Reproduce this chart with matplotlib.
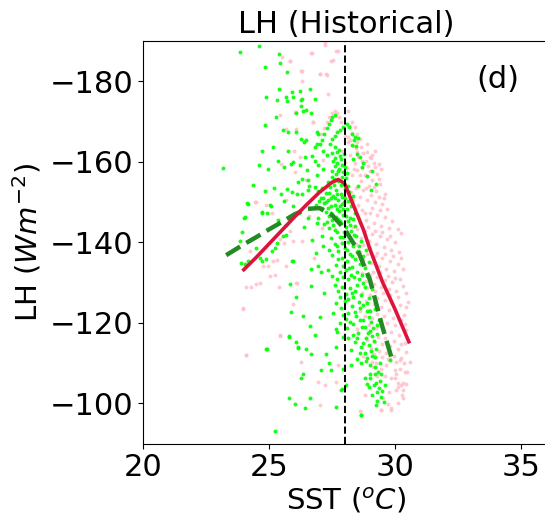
import matplotlib
matplotlib.use("Agg")
import matplotlib.pyplot as plt

# binned-mean curves
red_sst = [24.0, 24.5, 25.0, 25.5, 26.0, 26.5, 27.0, 27.5, 27.75, 28.0, 28.5, 28.75, 29.0, 29.5, 30.0, 30.55]
red_lh = [-133.2, -136.3, -139.6, -142.9, -146.2, -149.4, -152.4, -154.9, -155.6, -154.6, -146.9, -143.1, -138.4, -130.2, -123.4, -115.3]

green_line_sst = [23.3, 24.0, 24.5, 25.0, 25.5, 26.0, 26.5, 27.0, 27.5, 28.0, 28.5, 29.0, 29.5, 29.9]
green_line_lh = [-136.8, -139.5, -141.3, -143.2, -145.0, -146.9, -148.3, -148.5, -146.8, -143.3, -138.3, -130.8, -119.0, -110.5]

# scattered points (SST, LH)
green_sparse = [
    (23.85, -187.2), (24.6, -188.7), (25.4, -186.8), (25.43, -184.6), (24.83, -183.6), (25.73, -182.4),
    (25.38, -178.2), (24.9, -176.2), (25.3, -175.4), (25.67, -176.1), (25.7, -175.0), (25.92, -177.4),
    (25.96, -176.1), (26.23, -177.6), (26.26, -175.3), (26.62, -178.0), (24.83, -169.2), (25.26, -171.0),
    (25.55, -167.9), (25.77, -167.3), (26.08, -172.0), (26.35, -172.5), (26.47, -172.9), (26.66, -172.2),
    (24.74, -162.6), (25.15, -163.7), (26.26, -165.6), (26.37, -165.0), (25.75, -162.8), (23.19, -158.5),
    (24.6, -159.1), (24.95, -158.3), (25.36, -160.3), (25.6, -158.6), (25.89, -159.4), (24.37, -154.3),
    (25.19, -153.4), (24.83, -152.8), (25.47, -152.0), (25.7, -153.2), (25.93, -152.6), (26.1, -152.1),
    (26.31, -151.9), (24.15, -149.6), (24.71, -147.5), (25.03, -149.3), (24.01, -146.0), (23.91, -142.6),
    (25.6, -150.3), (25.95, -149.1), (26.28, -173.9), (26.81, -175.5), (26.48, -165.3), (26.95, -166.9),
    (27.01, -164.5), (27.14, -162.8), (24.04, -146.4), (26.15, -155.0), (26.55, -155.4), (26.81, -153.8),
    (26.55, -153.0), (26.29, -175.6), (26.07, -167.4), (26.89, -167.4), (26.82, -163.7), (26.91, -164.5),
    (26.43, -161.2), (26.69, -161.4), (26.23, -159.1), (26.95, -159.1),
    (24.13, -149.7), (23.86, -140.3), (23.9, -134.9), (24.04, -134.5), (24.17, -135.3), (24.5, -138.6),
    (24.63, -136.2), (24.74, -135.3), (24.87, -135.9), (25.1, -137.8), (25.23, -138.6), (25.32, -139.8),
    (25.56, -141.5), (25.69, -141.9), (24.94, -147.2), (24.74, -147.4), (25.06, -149.1), (25.36, -145.6),
    (25.69, -144.4), (25.9, -135.3), (26.09, -126.3), (25.89, -122.6), (25.81, -116.7), (26.09, -115.2),
    (24.92, -113.5), (26.17, -113.7), (24.9, -113.6), (25.8, -116.4), (26.15, -114.0), (26.35, -121.8),
    (26.61, -119.3), (26.68, -112.3), (26.46, -113.6), (26.28, -106.2), (26.35, -107.2), (25.8, -101.4),
    (26.02, -99.9), (26.42, -98.8), (26.64, -101.3), (25.23, -93.2), (27.01, -121.4), (26.81, -116.9),
    (27.28, -112.3), (27.37, -109.9), (27.47, -108.3), (27.67, -99.2), (27.08, -108.3), (27.65, -114.0),
    (27.65, -118.5), (27.87, -103.3), (28.66, -97.2), (25.82, -129.6), (25.95, -135.3), (26.68, -133.3),
    (26.95, -134.1), (27.08, -132.5), (26.68, -129.2), (26.88, -137.4), (26.4, -143.8), (26.7, -140.6),
    (26.2, -147.2), (26.55, -146.0), (26.9, -144.9), (27.15, -139.2), (27.2, -127.5),
]

green_core = [
    (27.1, -165.5), (27.2, -167.0), (27.3, -168.3), (27.38, -169.5), (27.45, -170.3), (27.52, -171.0), (27.6, -171.5),
    (27.42, -164.5), (27.5, -165.6), (27.6, -166.5), (27.7, -167.3), (27.82, -167.8), (27.95, -168.6),
    (28.08, -169.5), (28.18, -168.6), (28.28, -167.0), (28.36, -165.5), (28.45, -164.0), (28.41, -166.1),
    (28.54, -166.0), (28.28, -164.1), (28.48, -162.0), (28.74, -159.6), (28.61, -161.2),
    (27.55, -160.2), (27.62, -158.9), (27.7, -159.8), (27.78, -158.1), (27.85, -160.6), (27.92, -157.4),
    (27.66, -156.9), (27.58, -155.6), (27.74, -155.2), (27.88, -156.2), (28.02, -158.8), (28.06, -155.9),
    (27.96, -154.6), (27.5, -157.8), (27.81, -161.5), (27.69, -162.4), (27.6, -163.6),
    (25.95, -160.0), (26.5, -157.9), (26.82, -160.3), (27.15, -158.3), (26.3, -155.6), (27.35, -154.9),
    (28.7, -158.6), (28.9, -156.5), (29.1, -157.6), (29.25, -154.5), (29.05, -153.1), (28.55, -154.0),
    (28.35, -160.8), (26.9, -156.6), (27.3, -161.8), (26.6, -154.1),
    (26.95, -152.8), (27.05, -151.1), (27.12, -153.4), (27.2, -149.8), (27.28, -152.2), (27.35, -150.6),
    (27.42, -153.7), (27.48, -148.9), (27.55, -151.6), (27.6, -149.3), (27.66, -153.0), (27.72, -150.4),
    (27.78, -147.8), (27.84, -152.1), (27.9, -149.6), (27.95, -146.9), (28.02, -151.0), (28.08, -148.3),
    (28.14, -150.2), (28.2, -146.1), (28.27, -148.9), (28.33, -151.5), (27.38, -146.6), (27.25, -147.5),
    (27.1, -148.5), (27.0, -150.3), (26.85, -149.2), (27.5, -145.6), (27.65, -146.3), (27.82, -145.4),
    (28.0, -153.3), (28.12, -153.9), (27.58, -154.3), (27.45, -150.9), (27.7, -152.0), (27.88, -151.2),
    (27.35, -148.4), (27.92, -148.2), (28.25, -150.7), (28.4, -147.2),
    (27.55, -144.2), (27.7, -142.6), (27.85, -144.8), (27.95, -141.3), (28.05, -143.7), (28.15, -140.1),
    (28.25, -142.9), (28.35, -139.0), (28.45, -141.6), (28.55, -137.8), (28.65, -140.4), (28.75, -136.6),
    (27.6, -139.5), (27.75, -137.9), (27.9, -136.2), (28.0, -138.7), (28.1, -135.4), (28.2, -137.1),
    (28.3, -133.9), (28.4, -135.8), (28.5, -132.6), (28.6, -134.7), (28.7, -131.8), (28.8, -133.5),
    (27.65, -134.4), (27.8, -132.7), (27.95, -131.5), (28.05, -133.0), (28.15, -130.9), (28.25, -132.0),
    (27.5, -136.9), (27.45, -141.0), (27.35, -133.0), (27.4, -143.5), (28.85, -138.2), (28.95, -135.0),
    (28.9, -131.6), (27.72, -145.7), (28.12, -145.3), (28.42, -144.1),
    (27.6, -129.5), (27.75, -127.8), (27.9, -129.0), (28.05, -127.2), (28.2, -128.6), (28.35, -126.5),
    (28.5, -129.3), (28.65, -127.0), (28.8, -128.8), (28.95, -126.1), (29.1, -128.3), (27.65, -124.9),
    (27.85, -123.6), (28.0, -125.3), (28.15, -122.4), (28.3, -124.1), (28.45, -121.6), (28.6, -123.7),
    (28.75, -120.8), (28.9, -122.9), (29.05, -120.2), (29.2, -123.4), (27.8, -120.0), (28.1, -118.6),
    (28.35, -119.7), (28.55, -117.4), (28.7, -118.9), (28.85, -116.3), (29.0, -118.0), (29.15, -115.5),
    (29.3, -117.2), (28.4, -115.3), (28.65, -113.9), (28.8, -112.5), (28.95, -114.6), (29.1, -111.8),
    (29.25, -113.4), (28.5, -111.0), (27.95, -116.5), (27.7, -117.8), (28.25, -113.2), (29.35, -120.6),
    (27.55, -122.5), (28.05, -121.0),
    (28.27, -109.5), (28.67, -109.9), (28.84, -110.4), (29.0, -109.6), (29.2, -109.1), (29.4, -109.9),
    (29.79, -110.7), (28.8, -106.2), (29.0, -106.3), (29.2, -107.4), (29.33, -107.8), (29.46, -107.2),
    (29.26, -105.0), (29.37, -103.7), (29.3, -102.9), (29.5, -103.1), (29.6, -104.5), (28.87, -104.7),
    (29.24, -99.6), (29.56, -100.4), (28.67, -97.1), (28.07, -104.5), (27.88, -103.6), (27.94, -108.6),
    (27.52, -162.1), (27.76, -163.0), (27.98, -161.9), (27.63, -161.0), (27.88, -159.3), (27.72, -157.6),
    (27.52, -156.2), (27.84, -154.3), (28.1, -157.2), (27.4, -152.3), (27.62, -150.9), (27.8, -149.1),
    (27.98, -149.9), (28.18, -152.6), (28.3, -149.8), (27.28, -150.1), (27.15, -150.9), (27.48, -147.4),
    (27.68, -148.2), (28.05, -146.5), (28.35, -145.9), (27.62, -143.1), (27.8, -141.2), (27.98, -142.6),
    (28.2, -144.2), (28.38, -141.8), (28.58, -139.2), (27.7, -139.0), (27.88, -139.8), (28.1, -138.0),
    (28.3, -136.6), (28.48, -137.5), (28.68, -135.9), (27.72, -135.8), (27.92, -134.0), (28.18, -133.6),
    (28.38, -131.3), (28.58, -131.0), (28.75, -129.9), (27.7, -131.0), (27.82, -126.3), (28.12, -125.8),
    (28.28, -127.4), (28.42, -128.0), (28.58, -125.2), (28.72, -124.4), (28.88, -125.0), (29.02, -123.0),
    (27.95, -122.0), (28.22, -120.1), (28.4, -122.8), (28.62, -120.6), (28.8, -118.9), (28.98, -121.4),
    (29.12, -118.8), (29.28, -119.5), (28.5, -116.2), (28.75, -115.1), (28.92, -117.4), (29.08, -116.7),
    (29.22, -111.5), (28.6, -112.6), (28.9, -111.2), (29.05, -113.0), (28.35, -117.0), (28.15, -116.2),
    (29.15, -104.5), (29.4, -105.6), (29.0, -107.3), (28.95, -104.0), (29.45, -101.6), (29.3, -100.5),
    (29.1, -102.0), (27.4, -138.2), (27.5, -131.6), (27.3, -145.0), (26.95, -146.0), (27.2, -144.6),
    (27.1, -141.5),
]

pink_sparse = [
    (25.53, -186.0), (25.82, -185.0), (26.26, -182.5), (26.68, -187.1), (27.21, -189.5), (27.48, -185.0),
    (27.67, -187.5), (27.01, -181.7), (27.28, -181.7), (26.31, -180.1), (27.34, -176.8), (25.43, -171.5),
    (26.09, -172.3), (26.75, -169.8), (25.69, -168.2), (27.08, -166.9), (25.99, -162.8), (26.22, -161.2),
    (25.49, -159.5), (26.02, -157.5), (26.48, -155.4), (27.15, -160.4), (24.5, -150.1), (25.1, -147.2),
    (25.69, -150.5), (26.69, -187.1), (27.22, -189.1), (27.75, -187.5), (27.55, -185.4), (27.02, -181.7),
    (27.29, -181.5), (26.29, -182.5), (28.14, -172.7), (26.03, -172.3), (26.09, -168.2), (26.76, -169.8),
    (25.83, -185.0),
    (24.1, -128.8), (24.3, -128.8), (24.5, -129.6), (24.63, -130.0), (23.97, -123.6), (24.08, -111.9),
    (25.43, -116.8), (25.4, -128.8), (25.03, -131.6), (25.23, -132.0), (24.76, -134.1), (24.96, -134.1),
    (25.16, -135.3), (25.33, -135.7), (25.69, -134.1), (25.95, -140.3), (25.82, -142.7), (25.43, -140.7),
    (25.6, -139.8), (25.95, -124.6), (26.11, -130.0), (24.24, -137.8), (24.43, -150.1), (24.9, -149.3),
    (23.97, -123.4), (24.1, -112.0), (25.42, -116.9), (26.09, -130.0), (26.28, -110.3), (26.95, -105.4),
    (27.21, -104.6), (27.01, -99.6), (27.67, -105.4), (27.74, -109.5), (28.8, -102.1), (29.46, -98.4),
    (29.85, -98.8), (30.12, -100.0), (30.32, -101.3), (30.45, -104.9), (30.25, -104.5), (30.05, -103.3),
    (30.58, -110.3), (30.45, -112.8), (30.38, -107.8), (30.19, -108.6), (30.52, -125.1), (30.38, -119.7),
    (29.07, -110.3), (29.26, -109.9), (29.66, -109.5), (29.99, -108.2), (30.46, -107.7), (30.06, -107.4),
    (29.86, -106.2), (30.12, -105.0), (30.32, -105.0), (30.26, -102.1), (30.12, -104.1), (29.53, -101.4),
    (29.73, -99.9), (29.46, -98.4), (29.86, -98.4), (28.6, -98.0), (29.13, -109.1), (29.46, -108.6),
    (29.73, -111.1), (30.19, -110.7), (26.6, -146.5), (26.3, -140.2), (26.8, -136.0), (27.1, -143.5),
]

pink_core = [
    (27.2, -168.5), (27.3, -169.9), (27.4, -171.1), (27.5, -172.0), (27.6, -172.6), (27.7, -172.2),
    (27.78, -171.2), (27.86, -169.9), (27.93, -168.4), (28.2, -168.9), (28.3, -169.8), (28.4, -168.6),
    (28.5, -166.9), (28.14, -166.1), (28.48, -164.9), (28.67, -163.7), (28.87, -162.4), (29.0, -161.2),
    (29.2, -158.7),
    (28.0, -166.5), (28.15, -164.8), (28.3, -167.2), (28.45, -163.5), (28.6, -165.7), (28.75, -162.3),
    (28.9, -164.4), (29.05, -160.9), (28.2, -161.6), (28.4, -159.8), (28.55, -161.1), (28.7, -158.4),
    (28.85, -160.2), (29.0, -157.8), (29.15, -159.6), (29.3, -156.9), (28.1, -158.5), (28.3, -156.7),
    (28.5, -157.9), (28.65, -155.3), (28.8, -156.6), (28.95, -154.1), (29.1, -155.5), (29.25, -152.8),
    (29.4, -154.6), (28.05, -153.9), (28.25, -152.4), (28.45, -153.6), (28.6, -151.2), (28.75, -152.9),
    (28.9, -150.6), (29.05, -151.8), (29.2, -149.9), (29.35, -151.3), (29.5, -149.4), (27.9, -162.8),
    (28.0, -160.0), (28.35, -163.9), (29.2, -162.7), (29.45, -158.3), (29.6, -152.1),
    (28.4, -148.6), (28.55, -146.3), (28.7, -148.0), (28.85, -145.6), (29.0, -147.4), (29.15, -144.7),
    (29.3, -146.9), (29.45, -144.1), (29.6, -146.2), (29.75, -143.5), (28.5, -143.2), (28.65, -141.1),
    (28.8, -142.8), (28.95, -140.3), (29.1, -142.1), (29.25, -139.6), (29.4, -141.5), (29.55, -138.9),
    (29.7, -140.8), (29.85, -138.2), (30.0, -140.1), (28.6, -137.6), (28.75, -135.5), (28.9, -137.1),
    (29.05, -134.8), (29.2, -136.6), (29.35, -134.1), (29.5, -136.0), (29.65, -133.4), (29.8, -135.3),
    (29.95, -132.8), (30.1, -134.6), (28.7, -132.3), (28.85, -130.4), (29.0, -131.9), (29.15, -129.7),
    (29.3, -131.3), (29.45, -129.0), (29.6, -130.7), (29.75, -128.5), (29.9, -130.2), (30.05, -128.0),
    (30.2, -131.0), (28.35, -143.8), (28.45, -139.6), (30.15, -137.5), (29.9, -145.3), (30.25, -142.4),
    (28.7, -127.4), (28.85, -125.3), (29.0, -126.8), (29.15, -124.6), (29.3, -126.2), (29.45, -123.9),
    (29.6, -125.6), (29.75, -123.2), (29.9, -125.0), (30.05, -122.6), (30.2, -124.5), (30.35, -121.9),
    (28.8, -121.6), (28.95, -119.5), (29.1, -121.1), (29.25, -118.8), (29.4, -120.6), (29.55, -118.2),
    (29.7, -120.0), (29.85, -117.6), (30.0, -119.4), (30.15, -117.0), (30.3, -118.7), (28.9, -115.8),
    (29.05, -113.7), (29.2, -115.3), (29.35, -113.0), (29.5, -114.8), (29.65, -112.4), (29.8, -114.2),
    (29.95, -111.8), (30.1, -113.6), (30.25, -111.2), (30.4, -114.9), (28.6, -123.0), (28.5, -118.5),
    (30.45, -127.5), (30.3, -129.2), (28.75, -111.7),
    (28.22, -165.5), (28.5, -162.5), (28.68, -160.3), (28.92, -158.9), (29.1, -161.8), (29.35, -159.5),
    (28.38, -158.3), (28.6, -156.6), (28.85, -153.6), (29.15, -153.8), (29.35, -155.8), (29.55, -151.0),
    (28.35, -150.5), (28.55, -149.3), (28.8, -147.3), (29.1, -148.6), (29.4, -147.9), (29.7, -148.3),
    (28.6, -144.8), (28.92, -143.9), (29.2, -142.9), (29.5, -142.6), (29.8, -141.5), (30.1, -143.2),
    (28.72, -139.3), (29.0, -138.6), (29.3, -137.4), (29.62, -137.0), (29.92, -136.6), (30.25, -136.0),
    (28.8, -134.0), (29.12, -132.7), (29.42, -132.5), (29.72, -131.6), (30.02, -131.1), (30.3, -133.3),
    (28.9, -128.7), (29.22, -127.9), (29.52, -127.3), (29.82, -126.8), (30.12, -126.3), (30.42, -124.0),
    (28.95, -123.2), (29.28, -122.3), (29.58, -121.8), (29.92, -121.3), (30.22, -120.8), (30.45, -118.3),
    (29.0, -117.6), (29.32, -116.5), (29.62, -116.2), (29.95, -115.6), (30.25, -114.8), (29.15, -112.2),
    (29.48, -111.6), (29.8, -110.9), (30.05, -110.2), (30.35, -109.9), (29.62, -106.9), (30.0, -106.3),
    (30.3, -103.4), (29.75, -102.8), (29.3, -106.8),
]

fig = plt.figure(figsize=(5.45, 5.15), dpi=100)
ax = fig.add_axes([143 / 545, 71.4 / 515, 405.7 / 545, 402.6 / 515])

pink = pink_sparse + pink_core
green = green_sparse + green_core
ax.scatter([p[0] for p in pink], [p[1] for p in pink], s=8, color="pink", alpha=0.85, linewidths=0)
ax.scatter([p[0] for p in green], [p[1] for p in green], s=8, color="lime", alpha=0.9, linewidths=0)

ax.plot(green_line_sst, green_line_lh, color="forestgreen", lw=3.2, ls="--")
ax.plot(red_sst, red_lh, color="crimson", lw=2.6)
ax.axvline(28, color="black", ls="--", lw=1.4)

ax.set_xlim(20, 36.1)
ax.set_ylim(-90, -190)
ax.set_xticks([20, 25, 30, 35])
ax.set_yticks([-180, -160, -140, -120, -100])
ax.tick_params(labelsize=22)
ax.set_xlabel(r"SST ($^oC$)", fontsize=21, labelpad=3)
ax.set_ylabel(r"LH ($Wm^{-2}$)", fontsize=21)
ax.set_title("LH (Historical)", fontsize=22)
ax.text(34.1, -180.5, "(d)", fontsize=22, ha="center", va="center")

fig.savefig("out.png", dpi=100)
